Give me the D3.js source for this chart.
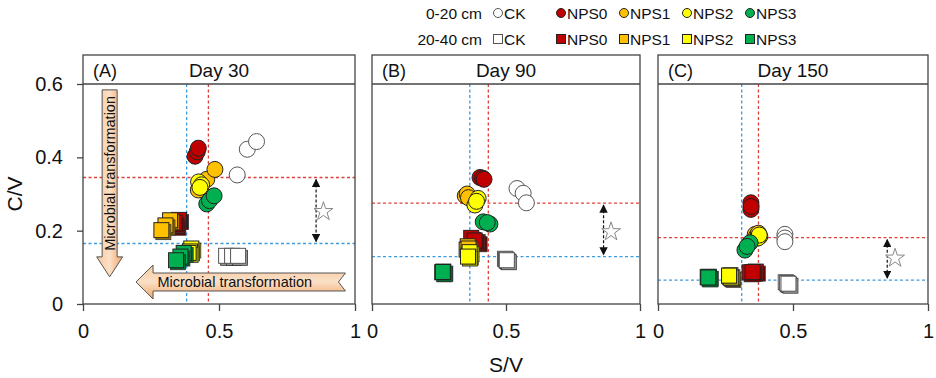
<!DOCTYPE html>
<html>
<head>
  <meta charset="utf-8">
  <script src="https://cdn.jsdelivr.net/npm/d3@7"></script>
  <style>
    body { margin: 0; background: #fff; }
    text { font-family: Arial, "Liberation Sans", sans-serif; fill: #111; }
  </style>
</head>
<body>
  <svg width="936" height="378" id="chart"></svg>
  <script>
    // data: [S/V, C/V], three replicates per treatment
    const days = ["Day 30", "Day 90", "Day 150"];
    const panelTags = ["(A)", "(B)", "(C)"];
    const treatments = ["CK", "NPS0", "NPS1", "NPS2", "NPS3"];
    const depths = ["0-20 cm", "20-40 cm"];
    const xTicks = [0, 0.5, 1];
    const yTicks = [0, 0.2, 0.4, 0.6];

    const top30 = [
      [[0.567, 0.352], [0.604, 0.422], [0.638, 0.443]],
      [[0.412, 0.403], [0.420, 0.415], [0.424, 0.425]],
      [[0.424, 0.311], [0.455, 0.340], [0.485, 0.367]],
      [[0.425, 0.333], [0.436, 0.325], [0.430, 0.318]],
      [[0.455, 0.273], [0.465, 0.282], [0.482, 0.295]]
    ];
    const sub30 = [
      [[0.528, 0.130], [0.550, 0.130], [0.572, 0.130]],
      [[0.355, 0.228], [0.345, 0.212], [0.338, 0.220]],
      [[0.322, 0.227], [0.305, 0.213], [0.290, 0.200]],
      [[0.400, 0.150], [0.395, 0.142], [0.390, 0.138]],
      [[0.372, 0.138], [0.360, 0.128], [0.344, 0.118]]
    ];
    const top90 = [
      [[0.541, 0.315], [0.564, 0.302], [0.576, 0.276]],
      [[0.403, 0.345], [0.413, 0.343], [0.418, 0.340]],
      [[0.348, 0.295], [0.355, 0.300], [0.360, 0.290]],
      [[0.396, 0.288], [0.384, 0.270], [0.390, 0.280]],
      [[0.415, 0.224], [0.440, 0.218], [0.430, 0.222]]
    ];
    const sub90 = [
      [[0.498, 0.122], [0.502, 0.120], [0.505, 0.118]],
      [[0.372, 0.179], [0.396, 0.167], [0.385, 0.172]],
      [[0.359, 0.156], [0.355, 0.147], [0.362, 0.150]],
      [[0.363, 0.131], [0.366, 0.140], [0.360, 0.128]],
      [[0.264, 0.085], [0.268, 0.087], [0.266, 0.086]]
    ];
    const top150 = [
      [[0.470, 0.190], [0.470, 0.180], [0.470, 0.170]],
      [[0.344, 0.276], [0.344, 0.258], [0.345, 0.266]],
      [[0.360, 0.190], [0.365, 0.185], [0.372, 0.193]],
      [[0.377, 0.184], [0.370, 0.180], [0.375, 0.188]],
      [[0.341, 0.167], [0.322, 0.147], [0.330, 0.157]]
    ];
    const sub150 = [
      [[0.475, 0.058], [0.480, 0.056], [0.485, 0.054]],
      [[0.341, 0.085], [0.364, 0.087], [0.352, 0.086]],
      [[0.274, 0.070], [0.270, 0.072], [0.268, 0.074]],
      [[0.267, 0.075], [0.270, 0.077], [0.265, 0.076]],
      [[0.186, 0.072], [0.190, 0.073], [0.188, 0.071]]
    ];
    const topData = [top30, top90, top150];
    const subData = [sub30, sub90, sub150];

    // reference lines: [blue, red]
    const refS = [[0.381, 0.461], [0.365, 0.434], [0.310, 0.372]];
    const refC = [[0.165, 0.345], [0.129, 0.275], [0.065, 0.181]];
    const stars = [[0.884, 0.252], [0.892, 0.197], [0.878, 0.125]];
    const arrowS = [0.857, 0.864, 0.849];

    const fills = ["#ffffff", "#c00000", "#ffc000", "#ffff00", "#00b050"];
    const darks = ["#9a9a9a", "#6e0000", "#a87800", "#a8a800", "#006a30"];
    const refColors = ["#3d9be0", "#e0403a"];

    const svg = d3.select('#chart');
    const panelX = [[83, 355], [372, 640], [658, 928]];
    const yBottom = 304, yTop = 84, headTop = 55;
    const yScale = d3.scaleLinear().domain([0, 0.6]).range([yBottom, yTop]);

    const defs = svg.append('defs');
    const gv = defs.append('linearGradient').attr('id', 'gv').attr('x1', 0).attr('x2', 1).attr('y1', 0).attr('y2', 0);
    gv.append('stop').attr('offset', '0%').attr('stop-color', '#f7c9a0');
    gv.append('stop').attr('offset', '50%').attr('stop-color', '#fbe0c6');
    gv.append('stop').attr('offset', '100%').attr('stop-color', '#f0a468');
    const gh = defs.append('linearGradient').attr('id', 'gh').attr('x1', 0).attr('x2', 0).attr('y1', 0).attr('y2', 1);
    gh.append('stop').attr('offset', '0%').attr('stop-color', '#f7c9a0');
    gh.append('stop').attr('offset', '50%').attr('stop-color', '#fbe0c6');
    gh.append('stop').attr('offset', '100%').attr('stop-color', '#f0a468');
    defs.append('marker').attr('id', 'ah').attr('viewBox', '0 0 10 10')
      .attr('refX', 9).attr('refY', 5).attr('markerWidth', 7).attr('markerHeight', 7)
      .attr('orient', 'auto-start-reverse')
      .append('path').attr('d', 'M0,0 L10,5 L0,10 Z').attr('fill', '#111');

    days.forEach((day, p) => {
      const xScale = d3.scaleLinear().domain([0, 1]).range(panelX[p]);
      const g = svg.append('g');
      const x0 = panelX[p][0], x1 = panelX[p][1];

      // reference lines
      refS[p].forEach((v, i) => {
        g.append('line').attr('x1', xScale(v)).attr('x2', xScale(v))
          .attr('y1', yTop).attr('y2', yBottom)
          .attr('stroke', refColors[i]).attr('stroke-width', 1.3).attr('stroke-dasharray', '3,2.5');
      });
      refC[p].forEach((v, i) => {
        g.append('line').attr('x1', x0).attr('x2', x1)
          .attr('y1', yScale(v)).attr('y2', yScale(v))
          .attr('stroke', refColors[i]).attr('stroke-width', 1.3).attr('stroke-dasharray', '3,2.5');
      });

      // dashed double arrow and star
      g.append('line')
        .attr('x1', xScale(arrowS[p])).attr('x2', xScale(arrowS[p]))
        .attr('y1', yScale(refC[p][1]) + 2).attr('y2', yScale(refC[p][0]) - 2)
        .attr('stroke', '#111').attr('stroke-width', 1.2).attr('stroke-dasharray', '3,2')
        .attr('marker-start', 'url(#ah)').attr('marker-end', 'url(#ah)');
      g.append('path')
        .attr('transform', `translate(${xScale(stars[p][0])},${yScale(stars[p][1])})`)
        .attr('d', d3.symbol().type(d3.symbolStar).size(110)())
        .attr('fill', '#fff').attr('stroke', '#888').attr('stroke-width', 1);

      // the microbial transformation arrows in panel A
      if (p === 0) {
        const cx = xScale(0.098), ya = yScale(0.584), yb = yScale(0.074);
        g.append('path')
          .attr('d', `M${cx - 7.5},${ya} L${cx + 7.5},${ya} L${cx + 7.5},${yb - 20} L${cx + 13},${yb - 20}
                      L${cx},${yb} L${cx - 13},${yb - 20} L${cx - 7.5},${yb - 20} Z`)
          .attr('fill', 'url(#gv)').attr('stroke', '#555').attr('stroke-width', 1);
        g.append('text')
          .attr('transform', `translate(${cx + 5},${(ya + yb - 20) / 2}) rotate(-90)`)
          .attr('text-anchor', 'middle').attr('font-size', 14.5)
          .text('Microbial transformation');

        const cy = yScale(0.06), xa = xScale(0.195), xb = xScale(0.965);
        g.append('path')
          .attr('d', `M${xa},${cy} L${xa + 17},${cy - 17} L${xa + 17},${cy - 9} L${xb},${cy - 9}
                      L${xb - 7},${cy} L${xb},${cy + 9} L${xa + 17},${cy + 9} L${xa + 17},${cy + 17} Z`)
          .attr('fill', 'url(#gh)').attr('stroke', '#555').attr('stroke-width', 1);
        g.append('text')
          .attr('x', (xa + xb) / 2 - 6).attr('y', cy + 5)
          .attr('text-anchor', 'middle').attr('font-size', 14.5)
          .text('Microbial transformation');
      }

      // squares (20-40 cm)
      subData[p].forEach((reps, t) => {
        g.selectAll(null).data(reps).join('g')
          .attr('transform', d => `translate(${xScale(d[0])},${yScale(d[1])})`)
          .each(function () {
            const s = d3.select(this);
            s.append('rect').attr('x', -6).attr('y', -6).attr('width', 15).attr('height', 15)
              .attr('fill', darks[t]).attr('stroke', '#333').attr('stroke-width', 0.8);
            s.append('rect').attr('x', -8).attr('y', -8).attr('width', 15).attr('height', 15)
              .attr('fill', fills[t]).attr('stroke', t === 0 ? '#555' : '#222').attr('stroke-width', 1);
          });
      });

      // circles (0-20 cm)
      topData[p].forEach((reps, t) => {
        g.selectAll(null).data(reps).join('circle')
          .attr('cx', d => xScale(d[0])).attr('cy', d => yScale(d[1])).attr('r', 8)
          .attr('fill', fills[t]).attr('stroke', t === 0 ? '#555' : '#222').attr('stroke-width', 1);
      });

      // frame with header
      g.append('rect').attr('x', x0).attr('y', headTop).attr('width', x1 - x0).attr('height', yBottom - headTop)
        .attr('fill', 'none').attr('stroke', '#444').attr('stroke-width', 1.3);
      g.append('line').attr('x1', x0).attr('x2', x1).attr('y1', yTop).attr('y2', yTop)
        .attr('stroke', '#444').attr('stroke-width', 1.3);
      g.append('text').attr('x', x0 + 10).attr('y', 77).attr('font-size', 18).text(panelTags[p]);
      g.append('text').attr('x', (x0 + x1) / 2).attr('y', 77).attr('text-anchor', 'middle')
        .attr('font-size', 19).text(day);

      // x axis
      const xAxis = g.append('g').attr('transform', `translate(0,${yBottom})`)
        .call(d3.axisBottom(xScale).tickValues(xTicks).tickSize(7).tickSizeOuter(0).tickPadding(13)
          .tickFormat(d => d === 0.5 ? '0.5' : d3.format('d')(d)));
      xAxis.select('.domain').remove();
      xAxis.selectAll('line').attr('stroke', '#444').attr('stroke-width', 1.3);
      xAxis.selectAll('text').attr('font-size', 20).attr('font-family', 'Arial, "Liberation Sans", sans-serif').attr('fill', '#111');

      if (p === 0) {
        const yAxis = g.append('g').attr('transform', `translate(${x0},0)`)
          .call(d3.axisLeft(yScale).tickValues(yTicks).tickSize(6).tickPadding(14)
            .tickFormat(d => d === 0 ? '0' : d3.format('.1f')(d)));
        yAxis.select('.domain').remove();
        yAxis.selectAll('line').attr('stroke', '#444').attr('stroke-width', 1.3);
        yAxis.selectAll('text').attr('font-size', 20).attr('font-family', 'Arial, "Liberation Sans", sans-serif').attr('fill', '#111');
      }
    });

    // axis titles
    svg.append('text').attr('transform', `translate(22,${(yTop + yBottom) / 2}) rotate(-90)`)
      .attr('text-anchor', 'middle').attr('font-size', 21).text('C/V');
    svg.append('text').attr('x', (panelX[1][0] + panelX[1][1]) / 2).attr('y', 372)
      .attr('text-anchor', 'middle').attr('font-size', 21).text('S/V');

    // legend
    const legX = [498, 561, 624, 687, 750];
    depths.forEach((dep, r) => {
      const ly = 13 + r * 26;
      svg.append('text').attr('x', 482).attr('y', ly + 5.5).attr('text-anchor', 'end')
        .attr('font-size', 15.5).text(dep);
      treatments.forEach((tr, t) => {
        if (r === 0) {
          svg.append('circle').attr('cx', legX[t]).attr('cy', ly).attr('r', 4.5)
            .attr('fill', fills[t]).attr('stroke', t === 0 ? '#555' : '#222').attr('stroke-width', 1);
        } else {
          svg.append('rect').attr('x', legX[t] - 4.5).attr('y', ly - 4.5).attr('width', 9).attr('height', 9)
            .attr('fill', fills[t]).attr('stroke', t === 0 ? '#555' : '#222').attr('stroke-width', 1);
        }
        svg.append('text').attr('x', legX[t] + 6).attr('y', ly + 5.5)
          .attr('font-size', 15.5).text(tr);
      });
    });
  </script>
</body>
</html>
